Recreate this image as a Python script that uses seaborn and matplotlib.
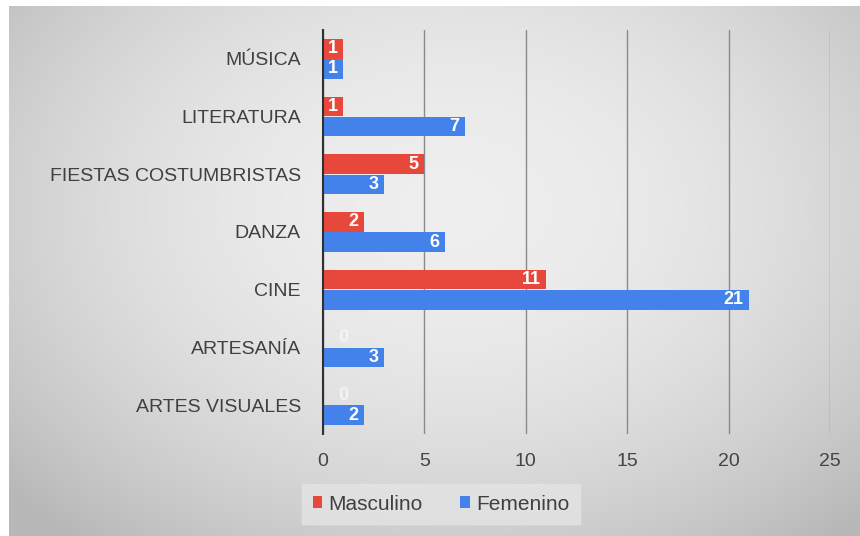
import numpy as np
import pandas as pd
import matplotlib
matplotlib.use("Agg")
import matplotlib.pyplot as plt
import seaborn as sns

categorias = ["MÚSICA", "LITERATURA", "FIESTAS COSTUMBRISTAS", "DANZA", "CINE", "ARTESANÍA", "ARTES VISUALES"]
masculino = [1, 1, 5, 2, 11, 0, 0]
femenino = [1, 7, 3, 6, 21, 3, 2]
series = ["Masculino", "Femenino"]
x_ticks = [0, 5, 10, 15, 20, 25]

df = pd.DataFrame({
    "categoria": categorias * 2,
    "valor": masculino + femenino,
    "sexo": [series[0]] * len(categorias) + [series[1]] * len(categorias),
})

sns.set_theme(style="white")
plt.rcParams["font.family"] = ["Liberation Sans", "DejaVu Sans"]

W, H = 860, 536
fig = plt.figure(figsize=(W / 100, H / 100), dpi=100)
fig.patch.set_facecolor("white")

# background gradient panel
bg = fig.add_axes([9 / W, 0, 1 - 9 / W, 1 - 6 / H], zorder=-10)
yy, xx = np.mgrid[0:1:300j, 0:1:500j]
r2 = ((xx - 0.52) / 0.62) ** 2 + ((yy - 0.38) / 0.72) ** 2
val = np.clip(0.935 - 0.17 * r2, 0.72, 1)
bg.imshow(np.dstack([val, val, val]), aspect="auto", extent=[0, 1, 1, 0], interpolation="bilinear")
bg.axis("off")

ax = fig.add_axes([323 / W, 1 - 434 / H, (830 - 323) / W, (434 - 30) / H])
ax.patch.set_alpha(0)

palette = {"Masculino": "#e8483b", "Femenino": "#4282ea"}
sns.barplot(data=df, y="categoria", x="valor", hue="sexo", hue_order=series,
            order=categorias, orient="h", palette=palette, width=0.70, gap=0.03,
            saturation=1, ax=ax, legend=True, zorder=3, linewidth=0)

ax.set_xlim(0, 25)
ax.set_xticks(x_ticks)
ax.set_xticklabels([str(t) for t in x_ticks], fontsize=14, color="#444444")
ax.tick_params(axis="y", labelsize=14, labelcolor="#404040", length=0, pad=16)
ax.tick_params(axis="x", length=0, pad=14)
ax.set_xlabel("")
ax.set_ylabel("")
ax.grid(axis="x", color="#8a8a8a", linewidth=1.0, zorder=0)
ax.set_axisbelow(True)
for s in ["top", "right", "bottom"]:
    ax.spines[s].set_visible(False)
ax.spines["left"].set_color("#303030")
ax.spines["left"].set_linewidth(1.5)
ax.spines["left"].set_zorder(5)

# value labels
for cont, vals in zip(ax.containers, [masculino, femenino]):
    for bar, v in zip(cont, vals):
        yc = bar.get_y() + bar.get_height() / 2
        if v == 0:
            ax.annotate(str(v), (0, yc), xytext=(14.5, 0), textcoords="offset points",
                        ha="center", va="center", color="#f4f4f4", fontsize=13, fontweight="bold", zorder=6)
        else:
            ax.annotate(str(v), (v, yc), xytext=(-4, 0), textcoords="offset points",
                        ha="right", va="center", color="white", fontsize=13, fontweight="bold", zorder=6)

handles, labels = ax.get_legend_handles_labels()
ax.get_legend().remove()
leg = fig.legend(handles, labels, loc="center", bbox_to_anchor=(441 / W, 1 - 504 / H), ncol=2,
                 frameon=True, fontsize=15, handlelength=0.45, handleheight=0.45, handletextpad=0.3,
                 columnspacing=1.8, borderpad=0.5, borderaxespad=0, fancybox=False, labelcolor="#404040")
leg.get_frame().set_facecolor("#e4e4e4")
leg.get_frame().set_edgecolor("#e4e4e4")

fig.savefig("out.png", dpi=100)
